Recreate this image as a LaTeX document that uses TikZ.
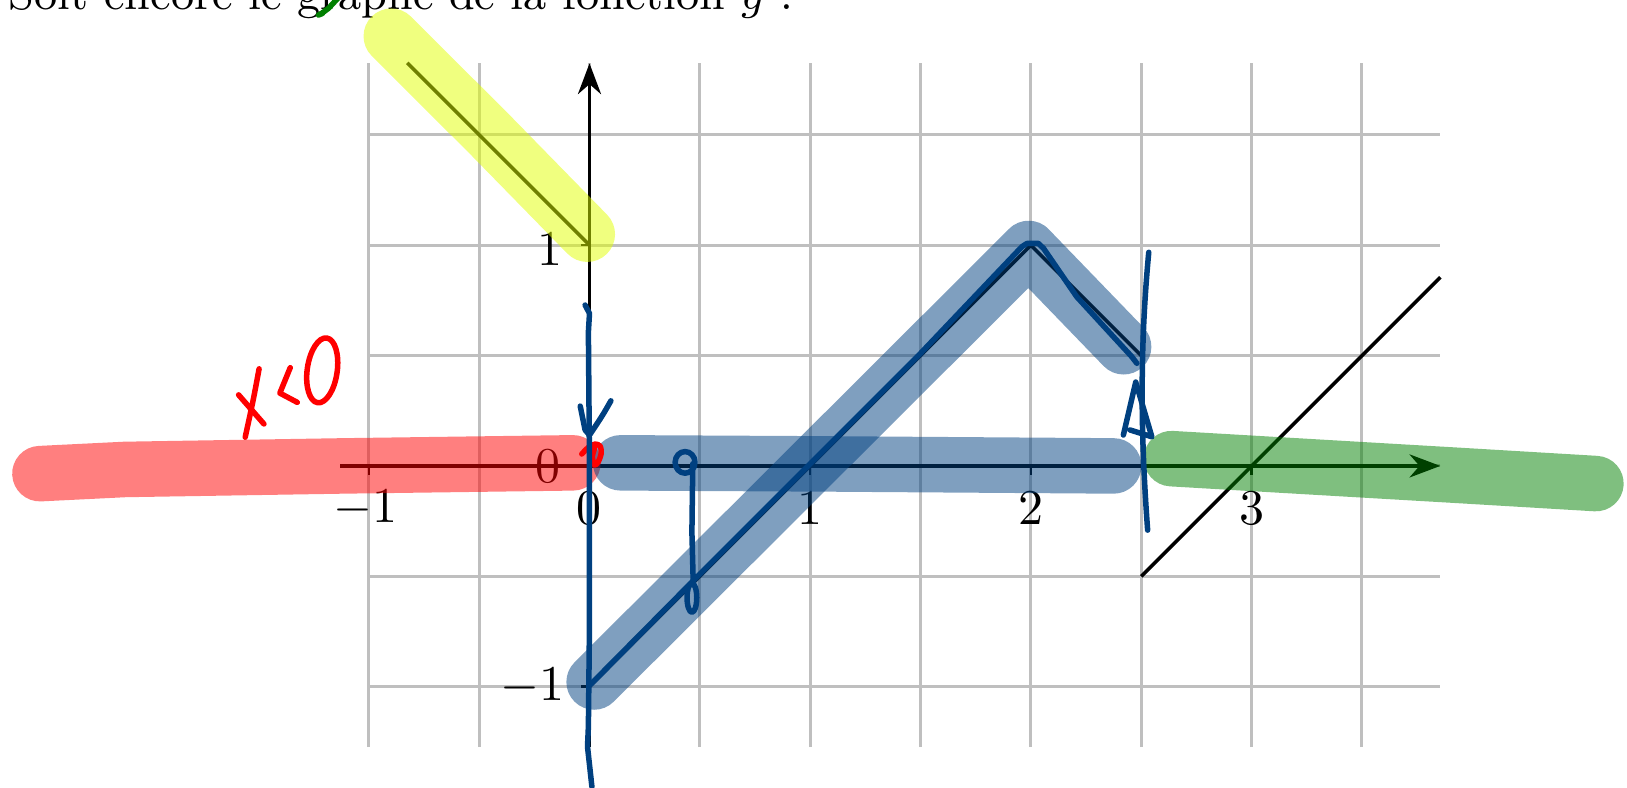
\documentclass[tikz,border=0pt]{standalone}
\usepackage{amsmath}
\usetikzlibrary{arrows.meta}
\definecolor{PenBlue}{HTML}{004080}
\definecolor{PenRed}{HTML}{FF0000}
\definecolor{PenGreen}{HTML}{008000}
\definecolor{HiYellow}{HTML}{E1FF00}
\tikzset{>=Stealth,every node/.style={font=\normalsize},
 gridline/.style={draw=black!25,line width=0.6pt},
 axis/.style={draw=black,line width=0.7pt,->},
 tick/.style={draw=black,line width=0.5pt},
 graphline/.style={draw=black,line width=0.7pt},
 marker/.style={line width=3.9mm,line cap=round,line join=round,draw opacity=0.5},
 pen/.style={line width=1.1pt,line cap=round,line join=round},
 label/.style={inner sep=0pt}}
\begin{document}
\begin{tikzpicture}[x=1.55cm,y=1.55cm]
\useasboundingbox (-2.671,-1.459) rectangle (4.701,2.111);
% title, cut at the top
\node[anchor=base west,inner sep=0pt,font=\small] (title) at (-2.635,2.066)
 {Soit encore le graphe de la fonction $g$ :};
% grid and axes
\draw[gridline] (-1,-1.274) grid[step=0.5] (3.855,1.824);
\draw[axis] (-1.13,0) -- (3.855,0);
\draw[axis] (0,-1.274) -- (0,1.824);
\foreach \x in {-1,1,2,3} \draw[tick] (\x,0) -- (\x,-0.04);
\foreach \y in {-1,1} \draw[tick] (0,\y) -- (-0.04,\y);
\node[label] (xlm1) at (-1.015,-0.193) {$-1$};
\node[label] (xl0) at (0,-0.193) {$0$};
\node[label] (xl1) at (1,-0.193) {$1$};
\node[label] (xl2) at (2,-0.193) {$2$};
\node[label] (xl3) at (3,-0.193) {$3$};
\node[label] (yl1) at (-0.179,0.983) {$1$};
\node[label] (yl0) at (-0.188,0) {$0$};
\node[label] (ylm1) at (-0.259,-1) {$-1$};
% graph of g
\draw[graphline] (-0.826,1.826) -- (0,1);
\draw[graphline] (0,-1) -- (2,1) -- (2.5,0.5);
\draw[graphline] (2.5,-0.5) -- (3.855,0.855);
% highlighter
\draw[marker,HiYellow] (-0.898,1.947) -- (-0.45,1.5) -- (-0.01,1.05);
\draw[marker,PenRed] (-2.49,-0.035) -- (-2.106,-0.016) -- (-1.119,0) -- (-0.075,0.014);
\draw[marker,PenBlue] (0.141,0.014) -- (1.091,0.009) -- (2.375,0);
\draw[marker,PenBlue] (0.021,-0.979) -- (1.99,0.985) -- (2.42,0.54);
\draw[marker,PenGreen] (2.637,0.033) -- (3.921,-0.042) -- (4.56,-0.08);
% red writing
\draw[pen,PenRed] (-1.497,0.44) .. controls (-1.523,0.3) .. (-1.56,0.13);
\draw[pen,PenRed] (-1.59,0.322) -- (-1.475,0.19);
\draw[pen,PenRed] (-1.356,0.445) -- (-1.403,0.33) -- (-1.324,0.288);
\draw[pen,PenRed,rotate around={-8:(-1.211,0.433)}] (-1.211,0.433) ellipse[x radius=0.068,y radius=0.148];
\draw[pen,PenRed] plot[smooth] coordinates {(-0.035,0.054) (-0.005,0.084) (0.025,0.099)
 (0.048,0.090) (0.053,0.057) (0.040,0.019) (0.023,0.004) (0.013,0.042) (0.023,0.080)};
% green mark
\draw[pen,PenGreen] (-1.13,2.13) -- (-1.183,2.073) -- (-1.213,2.051) -- (-1.228,2.043) -- (-1.21,2.05);
% blue writing
\draw[pen,PenBlue] (-0.020,0.729) -- (0,0.691) -- (-0.005,0.606) -- (0,-0.005) -- (0,-0.71)
 -- (-0.005,-1.18) -- (-0.009,-1.272) -- (0.011,-1.454);
\draw[pen,PenBlue] (-0.042,0.271) -- (-0.020,0.163) -- (0,0.140);
\draw[pen,PenBlue] (0.097,0.295) .. controls (0.06,0.23) .. (0.003,0.144);
\draw[pen,PenBlue] (0.433,0.016) ellipse[x radius=0.045,y radius=0.049];
\draw[pen,PenBlue] (0.468,0.01) -- (0.464,-0.3) -- (0.470,-0.53);
\draw[pen,PenBlue] (0.464,-0.597) ellipse[x radius=0.022,y radius=0.066];
\draw[pen,PenBlue] (2.534,0.968) .. controls (2.49,0.5) and (2.5,0.1) .. (2.529,-0.291);
\draw[pen,PenBlue] (2.419,0.140) -- (2.475,0.38) -- (2.548,0.132) -- (2.449,0.163);
\draw[pen,PenBlue] (0.005,-0.99) -- (0.5,-0.49) -- (1.0,0.01) -- (1.5,0.51) -- (1.959,0.993)
 -- (1.982,1.008) -- (2.034,1.008) -- (2.057,0.986) -- (2.208,0.766) -- (2.457,0.495) -- (2.480,0.465);
\end{tikzpicture}
\end{document}
